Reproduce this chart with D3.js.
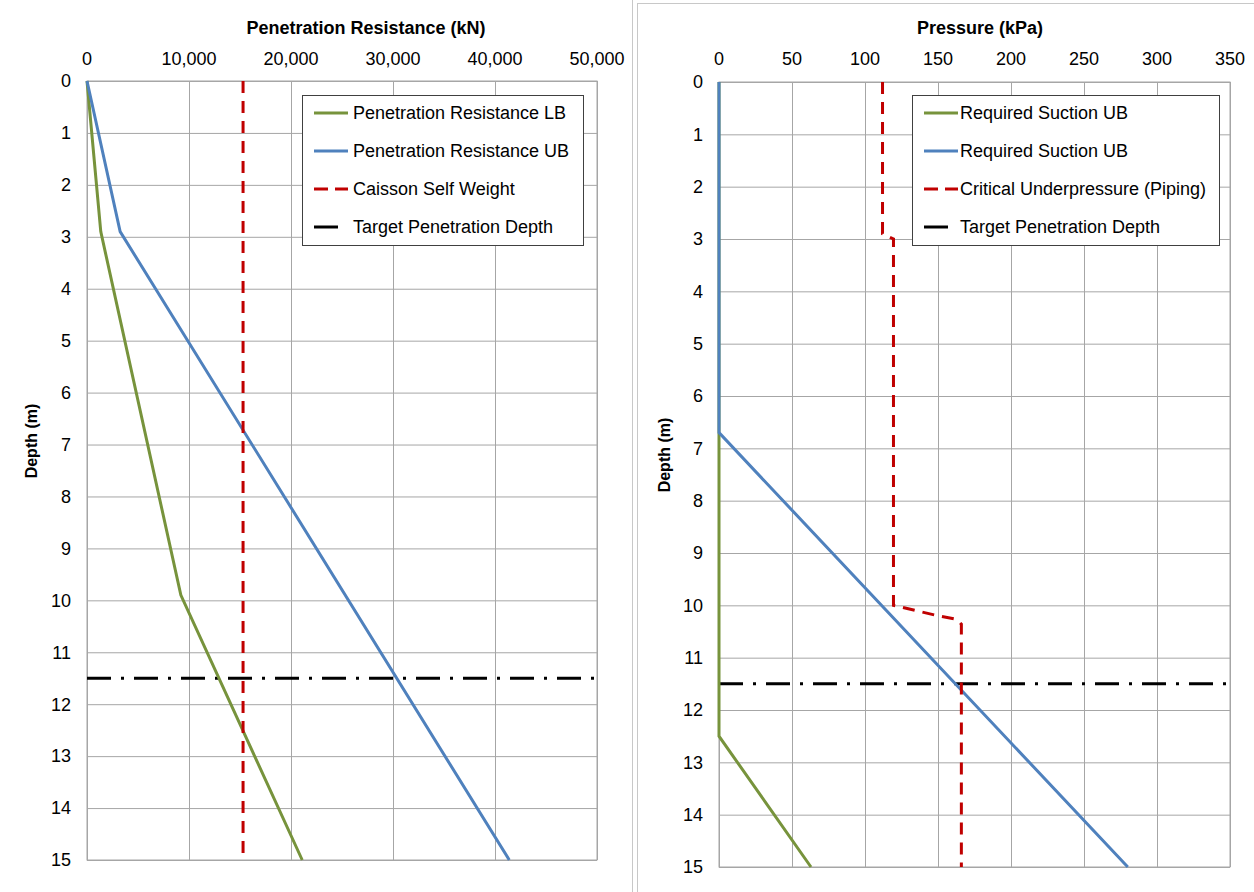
<!DOCTYPE html>
<html>
<head>
<meta charset="utf-8">
<script src="https://cdn.jsdelivr.net/npm/d3@7"></script>
<style>
  body { margin: 0; background: #fff; }
  svg { display: block; font-family: "Liberation Sans", Arial, sans-serif; }
</style>
</head>
<body>
<svg width="1254" height="892"></svg>
<script>
// depth in m, values in kN / kPa
let targetDepth = 11.5

let resistLB = [[0, 0], [1350, 2.9], [9200, 9.9], [21100, 15]]
let resistUB = [[0, 0], [3250, 2.9], [41400, 15]]
let selfWeight = [[15300, 0], [15300, 15]]

let suctionLB = [[0, 0], [0, 12.5], [63, 15]]
let suctionUB = [[0, 0], [0, 6.7], [280, 15]]
let pipingLimit = [[112, 0], [112, 2.9], [119.5, 3.0], [119.5, 10.0], [150, 10.2], [163, 10.27], [166, 10.36], [166, 15]]

let leftTicks = [0, 10000, 20000, 30000, 40000, 50000]
let rightTicks = [0, 50, 100, 150, 200, 250, 300, 350]
let depthTicks = d3.range(0, 16)

let green = '#77933c'
let blue = '#4f81bd'
let red = '#c00000'

let svg = d3.select('svg')

/* chart frames */
svg.append('line')
    .attr('x1', 632.5).attr('x2', 632.5).attr('y1', 0).attr('y2', 892)
    .attr('stroke', '#c8c8c8')
svg.append('rect')
    .attr('x', 637.5).attr('y', 3.5).attr('width', 620).attr('height', 892)
    .attr('fill', 'none').attr('stroke', '#c8c8c8')

function drawPanel(cfg) {
  let xScale = d3.scaleLinear().domain(cfg.xDomain).range([cfg.left, cfg.right])
  let yScale = d3.scaleLinear().domain([0, 15]).range([cfg.top, cfg.bottom])
  let g = svg.append('g')

  /* grid */
  g.append('g')
    .attr('transform', `translate(0, ${cfg.top})`)
    .call(d3.axisTop(xScale).tickValues(cfg.ticks).tickSize(-(cfg.bottom - cfg.top)).tickFormat(''))
    .call(a => a.select('.domain').remove())
    .selectAll('line').attr('stroke', '#a6a6a6')
  g.append('g')
    .attr('transform', `translate(${cfg.left}, 0)`)
    .call(d3.axisLeft(yScale).tickValues(depthTicks).tickSize(-(cfg.right - cfg.left)).tickFormat(''))
    .call(a => a.select('.domain').remove())
    .selectAll('line').attr('stroke', '#a6a6a6')
  g.append('rect')
    .attr('x', cfg.left).attr('y', cfg.top)
    .attr('width', cfg.right - cfg.left).attr('height', cfg.bottom - cfg.top)
    .attr('fill', 'none').attr('stroke', '#a6a6a6')

  /* tick labels */
  g.selectAll('.xlab').data(cfg.ticks).enter().append('text')
    .attr('x', d => xScale(d)).attr('y', 65)
    .attr('text-anchor', 'middle').attr('font-size', 18)
    .text(d => d3.format(',')(d))
  g.selectAll('.ylab').data(depthTicks).enter().append('text')
    .attr('x', cfg.left - 16).attr('y', d => yScale(d)).attr('dy', '0.35em')
    .attr('text-anchor', 'end').attr('font-size', 18)
    .text(d => d)

  /* titles */
  g.append('text')
    .attr('x', cfg.titleX).attr('y', 34)
    .attr('text-anchor', 'middle').attr('font-size', 18).attr('font-weight', 'bold')
    .text(cfg.title)
  g.append('text')
    .attr('transform', `translate(${cfg.yTitleX}, ${cfg.yTitleY}) rotate(-90)`)
    .attr('text-anchor', 'middle').attr('font-size', 16).attr('font-weight', 'bold')
    .style('font-family', '"Liberation Sans Narrow", "Liberation Sans", Arial, sans-serif')
    .text('Depth (m)')

  /* series */
  let line = d3.line().x(d => xScale(d[0])).y(d => yScale(d[1]))
  let target = [[cfg.xDomain[0], targetDepth], [cfg.xDomain[1], targetDepth]]
  let series = cfg.series.concat([{ name: 'Target Penetration Depth', data: target, color: '#000', dash: '24,10,3,10' }])
  let order = [3, 0, 1, 2]
  order.forEach(i => {
    let s = series[i]
    g.append('path')
      .attr('d', line(s.data))
      .attr('fill', 'none')
      .attr('stroke', s.color)
      .attr('stroke-width', 3)
      .attr('stroke-dasharray', s.dash || null)
  })

  /* legend */
  let lg = g.append('g').attr('transform', `translate(${cfg.legend[0]}, ${cfg.legend[1]})`)
  lg.append('rect')
    .attr('x', 0.5).attr('y', 0.5).attr('width', cfg.legend[2]).attr('height', 150)
    .attr('fill', '#fff').attr('stroke', '#404040')
  series.forEach((s, i) => {
    let y = 18 + i * 38
    lg.append('line')
      .attr('x1', 12).attr('x2', 46).attr('y1', y).attr('y2', y)
      .attr('stroke', s.color).attr('stroke-width', 3)
      .attr('stroke-dasharray', s.dash ? (i === 3 ? '24,10' : '14,7') : null)
    lg.append('text')
      .attr('x', cfg.legendText).attr('y', y).attr('dy', '0.35em')
      .attr('font-size', 18)
      .text(s.name)
  })
}

drawPanel({
  title: 'Penetration Resistance (kN)', titleX: 366,
  xDomain: [0, 50000], ticks: leftTicks,
  left: 87, right: 597, top: 81, bottom: 860,
  yTitleX: 37, yTitleY: 441,
  legend: [302, 95, 281], legendText: 51,
  series: [
    { name: 'Penetration Resistance LB', data: resistLB, color: green },
    { name: 'Penetration Resistance UB', data: resistUB, color: blue },
    { name: 'Caisson Self Weight', data: selfWeight, color: red, dash: '12,8' }
  ]
})

drawPanel({
  title: 'Pressure (kPa)', titleX: 980,
  xDomain: [0, 350], ticks: rightTicks,
  left: 719, right: 1230, top: 82, bottom: 867,
  yTitleX: 670, yTitleY: 455,
  legend: [912, 95, 307], legendText: 48,
  series: [
    { name: 'Required Suction UB', data: suctionLB, color: green },
    { name: 'Required Suction UB', data: suctionUB, color: blue },
    { name: 'Critical Underpressure (Piping)', data: pipingLimit, color: red, dash: '12,8' }
  ]
})
</script>
</body>
</html>
